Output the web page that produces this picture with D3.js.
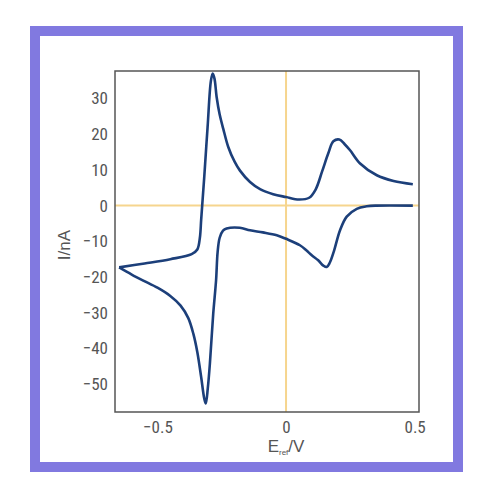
<!DOCTYPE html>
<html>
<head>
<meta charset="utf-8">
<script src="https://cdn.jsdelivr.net/npm/d3@7"></script>
<style>
  body { margin: 0; background: #fff; }
  .tick text { font-family: "Liberation Sans Narrow", "Roboto Condensed", "Liberation Sans", sans-serif; fill: #555; }
</style>
</head>
<body>
<div id="chart"></div>
<script>
// reverse scan (lower branch), from right end to left vertex
const revE = [0.493, 0.35, 0.314, 0.275, 0.236, 0.21, 0.186, 0.17, 0.158, 0.145, 0.125, 0.1, 0.08, 0.054,
  0.0, -0.036, -0.09, -0.14, -0.18, -0.231, -0.245, -0.258, -0.266, -0.272, -0.283, -0.296, -0.304, -0.312,
  -0.318, -0.33, -0.345, -0.36, -0.38, -0.41, -0.45, -0.50, -0.555, -0.60, -0.649];
const revI = [0, 0, -0.2, -0.9, -3.1, -6.9, -12.8, -16.0, -17.2, -16.8, -15.3, -13.9, -12.6, -11.1,
  -9.3, -8.3, -7.5, -6.9, -6.2, -6.4, -7.0, -9.0, -13.0, -20.9, -30.2, -44.2, -51.0, -55.4,
  -54.0, -48.0, -41.0, -36.0, -31.5, -28.0, -25.3, -23.0, -21.0, -19.3, -17.3];

// forward scan (upper branch), from left vertex to right end
const fwdE = [-0.649, -0.55, -0.45, -0.367, -0.345, -0.335, -0.33, -0.326, -0.318, -0.305, -0.292,
  -0.285, -0.278, -0.27, -0.258, -0.244, -0.225, -0.2, -0.179, -0.14, -0.101, -0.05, 0.0, 0.05, 0.09,
  0.115, 0.14, 0.165, 0.184, 0.207, 0.228, 0.249, 0.288, 0.353, 0.418, 0.493];
const fwdI = [-17.3, -16.2, -15.0, -13.6, -12.3, -9.0, -4.0, 0, 8.0, 22.0, 35.0,
  37.0, 35.5, 30.5, 25.5, 21.5, 16.5, 12.3, 9.8, 6.6, 4.6, 3.2, 2.4, 1.7, 2.2,
  4.5, 9.5, 14.8, 18.0, 18.5, 17.2, 15.5, 11.8, 8.5, 6.9, 6.0];

const xTicks = [-0.5, 0, 0.5];
const yTicks = [-50, -40, -30, -20, -10, 0, 10, 20, 30];

const width = 500, height = 500;
const plot = { left: 115, right: 419, top: 71, bottom: 412 };

const svg = d3.select("#chart").append("svg")
  .attr("width", width)
  .attr("height", height);

// purple frame
svg.append("rect")
  .attr("x", 35).attr("y", 31)
  .attr("width", 423).attr("height", 436)
  .attr("fill", "none")
  .attr("stroke", "#8179e0")
  .attr("stroke-width", 10);

const x = d3.scaleLinear().domain([-0.665, 0.517]).range([plot.left, plot.right]);
const y = d3.scaleLinear().domain([-57.8, 37.7]).range([plot.bottom, plot.top]);

// zero lines
svg.append("line")
  .attr("x1", plot.left).attr("x2", plot.right)
  .attr("y1", y(0)).attr("y2", y(0))
  .attr("stroke", "#f6d58e").attr("stroke-width", 2);
svg.append("line")
  .attr("x1", x(0)).attr("x2", x(0))
  .attr("y1", plot.top).attr("y2", plot.bottom)
  .attr("stroke", "#f6d58e").attr("stroke-width", 2);

// axes (labels only)
const xAxis = svg.append("g")
  .attr("transform", "translate(0," + plot.bottom + ")")
  .call(d3.axisBottom(x).tickValues(xTicks).tickSize(0).tickPadding(9).tickFormat(d3.format("")));
xAxis.select(".domain").remove();

const yAxis = svg.append("g")
  .attr("transform", "translate(" + plot.left + ",0)")
  .call(d3.axisLeft(y).tickValues(yTicks).tickSize(0).tickPadding(7));
yAxis.select(".domain").remove();

svg.selectAll(".tick text").attr("font-size", 17);

// plot frame
svg.append("rect")
  .attr("x", plot.left).attr("y", plot.top)
  .attr("width", plot.right - plot.left)
  .attr("height", plot.bottom - plot.top)
  .attr("fill", "none")
  .attr("stroke", "#555")
  .attr("stroke-width", 1.5);

// curves
const line = d3.line()
  .x(d => x(d[0]))
  .y(d => y(d[1]))
  .curve(d3.curveCatmullRom.alpha(0.5));

[[revE, revI], [fwdE, fwdI]].forEach(([e, i]) => {
  svg.append("path")
    .attr("d", line(e.map((v, k) => [v, i[k]])))
    .attr("fill", "none")
    .attr("stroke", "#1c3f7a")
    .attr("stroke-width", 2.6)
    .attr("stroke-linejoin", "round");
});

// axis titles
const xt = svg.append("text")
  .attr("x", x(0)).attr("y", 452)
  .attr("text-anchor", "middle")
  .attr("font-family", "'Liberation Sans Narrow', 'Liberation Sans', sans-serif")
  .attr("font-size", 17)
  .attr("fill", "#555");
xt.append("tspan").text("E");
xt.append("tspan").attr("font-size", 8).attr("dy", 3).text("ref");
xt.append("tspan").attr("dy", -3).text("/V");

svg.append("text")
  .attr("transform", "translate(70,245) rotate(-90)")
  .attr("text-anchor", "middle")
  .attr("font-family", "'Liberation Sans Narrow', 'Liberation Sans', sans-serif")
  .attr("font-size", 17)
  .attr("fill", "#555")
  .text("I/nA");
</script>
</body>
</html>
